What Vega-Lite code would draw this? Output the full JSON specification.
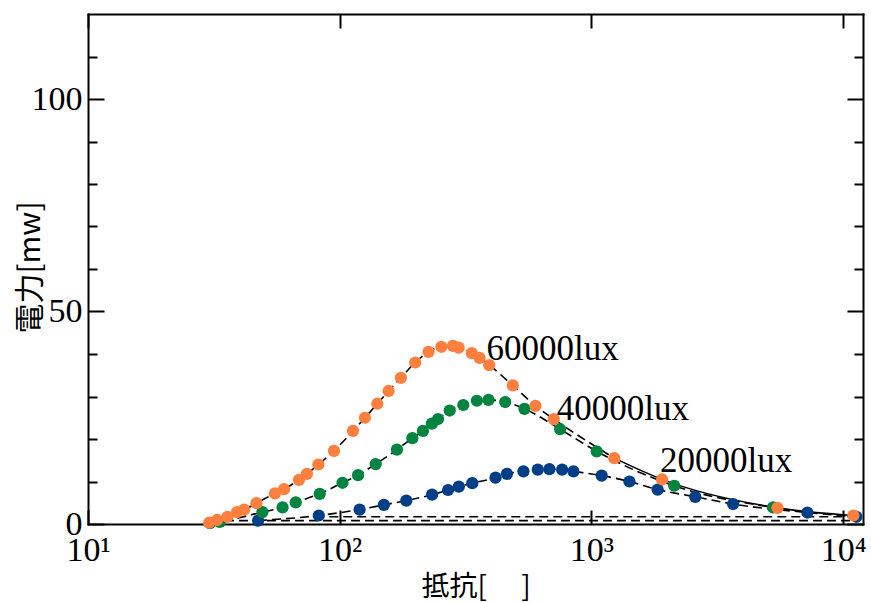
{
  "$schema": "https://vega.github.io/schema/vega-lite/v6.json",
  "width": 775,
  "height": 510,
  "autosize": {"type": "none"},
  "padding": {"left": 88, "top": 14, "right": 8, "bottom": 79},
  "background": "white",
  "config": {
    "view": {"stroke": null},
    "axis": {"domainColor": "black", "domainWidth": 2, "domainCap": "square", "tickColor": "black", "tickWidth": 2, "labelColor": "black", "titleColor": "black", "grid": false, "labelFont": "Liberation Serif", "labelFontSize": 34}
  },
  "datasets": {
    "pts": [
      {"series": "20000lux", "R": 47.4, "P": 0.8},
      {"series": "20000lux", "R": 82.6, "P": 2.0},
      {"series": "20000lux", "R": 120.0, "P": 3.4},
      {"series": "20000lux", "R": 149.8, "P": 4.5},
      {"series": "20000lux", "R": 183.9, "P": 5.5},
      {"series": "20000lux", "R": 232.8, "P": 6.9},
      {"series": "20000lux", "R": 269.6, "P": 8.0},
      {"series": "20000lux", "R": 297.4, "P": 8.8},
      {"series": "20000lux", "R": 336.3, "P": 9.6},
      {"series": "20000lux", "R": 416.1, "P": 10.9},
      {"series": "20000lux", "R": 462.0, "P": 11.8},
      {"series": "20000lux", "R": 537.0, "P": 12.4},
      {"series": "20000lux", "R": 612.4, "P": 12.8},
      {"series": "20000lux", "R": 681.3, "P": 12.9},
      {"series": "20000lux", "R": 765.2, "P": 12.8},
      {"series": "20000lux", "R": 848.8, "P": 12.4},
      {"series": "20000lux", "R": 1099, "P": 11.4},
      {"series": "20000lux", "R": 1416, "P": 10.0},
      {"series": "20000lux", "R": 1834, "P": 8.1},
      {"series": "20000lux", "R": 2587, "P": 6.4},
      {"series": "20000lux", "R": 3656, "P": 4.7},
      {"series": "20000lux", "R": 7211, "P": 2.7},
      {"series": "20000lux", "R": 11300, "P": 1.7},
      {"series": "40000lux", "R": 30.5, "P": 0.2},
      {"series": "40000lux", "R": 33.4, "P": 0.5},
      {"series": "40000lux", "R": 49.3, "P": 2.8},
      {"series": "40000lux", "R": 59.3, "P": 3.9},
      {"series": "40000lux", "R": 66.9, "P": 5.1},
      {"series": "40000lux", "R": 83.3, "P": 7.1},
      {"series": "40000lux", "R": 102.6, "P": 9.7},
      {"series": "40000lux", "R": 118.3, "P": 11.5},
      {"series": "40000lux", "R": 139.0, "P": 14.1},
      {"series": "40000lux", "R": 168.8, "P": 17.5},
      {"series": "40000lux", "R": 194.4, "P": 20.2},
      {"series": "40000lux", "R": 214.2, "P": 21.9},
      {"series": "40000lux", "R": 232.4, "P": 23.6},
      {"series": "40000lux", "R": 246.0, "P": 24.7},
      {"series": "40000lux", "R": 273.6, "P": 26.7},
      {"series": "40000lux", "R": 309.8, "P": 28.0},
      {"series": "40000lux", "R": 350.8, "P": 29.0},
      {"series": "40000lux", "R": 390.2, "P": 29.2},
      {"series": "40000lux", "R": 454.5, "P": 28.7},
      {"series": "40000lux", "R": 542.2, "P": 27.1},
      {"series": "40000lux", "R": 751.4, "P": 22.3},
      {"series": "40000lux", "R": 1050, "P": 17.1},
      {"series": "40000lux", "R": 2134, "P": 9.0},
      {"series": "40000lux", "R": 5272, "P": 3.9},
      {"series": "60000lux", "R": 30.3, "P": 0.3},
      {"series": "60000lux", "R": 32.6, "P": 0.95},
      {"series": "60000lux", "R": 35.8, "P": 1.7},
      {"series": "60000lux", "R": 39.1, "P": 2.8},
      {"series": "60000lux", "R": 41.7, "P": 3.4},
      {"series": "60000lux", "R": 46.7, "P": 4.9},
      {"series": "60000lux", "R": 55.3, "P": 7.2},
      {"series": "60000lux", "R": 60.1, "P": 8.2},
      {"series": "60000lux", "R": 68.9, "P": 10.4},
      {"series": "60000lux", "R": 74.1, "P": 11.8},
      {"series": "60000lux", "R": 82.3, "P": 14.0},
      {"series": "60000lux", "R": 94.9, "P": 17.2},
      {"series": "60000lux", "R": 112.9, "P": 21.9},
      {"series": "60000lux", "R": 126.0, "P": 25.0},
      {"series": "60000lux", "R": 141.1, "P": 28.3},
      {"series": "60000lux", "R": 156.4, "P": 31.3},
      {"series": "60000lux", "R": 175.0, "P": 34.4},
      {"series": "60000lux", "R": 199.6, "P": 38.0},
      {"series": "60000lux", "R": 225.4, "P": 40.5},
      {"series": "60000lux", "R": 253.5, "P": 41.7},
      {"series": "60000lux", "R": 281.8, "P": 41.9},
      {"series": "60000lux", "R": 296.8, "P": 41.5},
      {"series": "60000lux", "R": 335.0, "P": 40.2},
      {"series": "60000lux", "R": 359.5, "P": 39.1},
      {"series": "60000lux", "R": 392.7, "P": 37.4},
      {"series": "60000lux", "R": 487.3, "P": 32.6},
      {"series": "60000lux", "R": 599.7, "P": 27.8},
      {"series": "60000lux", "R": 708.8, "P": 24.7},
      {"series": "60000lux", "R": 1233, "P": 15.5},
      {"series": "60000lux", "R": 1909, "P": 10.5},
      {"series": "60000lux", "R": 5486, "P": 3.8},
      {"series": "60000lux", "R": 10990, "P": 2.0}
    ],
    "base": [
      {"line": "a", "R": 35, "P": 0.8},
      {"line": "a", "R": 11500, "P": 0.8},
      {"line": "b", "R": 80, "P": 1.7},
      {"line": "b", "R": 11500, "P": 1.7}
    ],
    "labels": [
      {"label": "60000lux", "R": 383, "P": 38.6},
      {"label": "40000lux", "R": 728, "P": 24.5},
      {"label": "20000lux", "R": 1874, "P": 12.3}
    ]
  },
  "resolve": {"axis": {"x": "independent", "y": "independent"}},
  "layer": [
    {
      "data": {"name": "base"},
      "mark": {"type": "line", "color": "black", "strokeWidth": 1.6, "strokeDash": [9, 5]},
      "encoding": {
        "x": {"field": "R", "type": "quantitative", "scale": {"type": "log", "domain": [10, 12000], "nice": false},
          "axis": {"orient": "bottom", "values": [10, 100, 1000, 10000], "tickSize": -14, "labelPadding": 23,
            "labelExpr": "datum.value == 10 ? '10¹' : datum.value == 100 ? '10²' : datum.value == 1000 ? '10³' : '10⁴'",
            "labelFlush": false, "labelOverlap": false,
            "title": "抵抗[　 ]", "titleFont": "Noto Sans CJK JP", "titleFontSize": 28, "titleFontWeight": "normal", "titlePadding": 6}},
        "y": {"field": "P", "type": "quantitative", "scale": {"domain": [0, 120], "nice": false, "zero": false},
          "axis": {"orient": "left", "values": [0, 50, 100], "tickSize": -16, "labelPadding": 22, "labelFlush": false, "labelOverlap": false,
            "title": "電力[mw]", "titleFont": "Noto Sans CJK JP", "titleFontSize": 30, "titleFontWeight": "normal",
            "titleX": -58, "titleY": 253, "titleAngle": -90, "titleAlign": "center", "titleBaseline": "middle"}},
        "detail": {"field": "line"}
      }
    },
    {
      "data": {"name": "pts"},
      "transform": [{"filter": "datum.series != '60000lux' || datum.R <= 1300"}],
      "mark": {"type": "line", "color": "black", "strokeWidth": 1.6, "strokeDash": [9, 5], "interpolate": "monotone"},
      "encoding": {
        "x": {"field": "R", "type": "quantitative", "scale": {"type": "log", "domain": [10, 12000], "nice": false},
          "axis": {"orient": "top", "values": [10, 100, 1000, 10000], "tickSize": -14, "labels": false, "title": null}},
        "y": {"field": "P", "type": "quantitative", "scale": {"domain": [0, 120], "nice": false, "zero": false},
          "axis": {"orient": "right", "values": [0, 50, 100], "tickSize": -16, "labels": false, "title": null}},
        "detail": {"field": "series"}
      }
    },
    {
      "data": {"name": "pts"},
      "transform": [{"filter": "datum.series == '60000lux' && datum.R >= 1200"}],
      "mark": {"type": "line", "color": "black", "strokeWidth": 1.6, "interpolate": "monotone"},
      "encoding": {
        "x": {"field": "R", "type": "quantitative", "scale": {"type": "log", "domain": [10, 12000], "nice": false}, "axis": null},
        "y": {"field": "P", "type": "quantitative", "scale": {"domain": [0, 120], "nice": false, "zero": false},
          "axis": {"orient": "left", "values": [10, 20, 30, 40, 60, 70, 80, 90, 110], "tickSize": -9, "labels": false, "domain": false, "title": null}}
      }
    },
    {
      "data": {"name": "pts"},
      "mark": {"type": "circle", "size": 150, "opacity": 1},
      "encoding": {
        "x": {"field": "R", "type": "quantitative", "scale": {"type": "log", "domain": [10, 12000], "nice": false}, "axis": null},
        "y": {"field": "P", "type": "quantitative", "scale": {"domain": [0, 120], "nice": false, "zero": false},
          "axis": {"orient": "right", "values": [10, 20, 30, 40, 60, 70, 80, 90, 110], "tickSize": -9, "labels": false, "domain": false, "title": null}},
        "color": {"field": "series", "type": "nominal",
          "scale": {"domain": ["20000lux", "40000lux", "60000lux"], "range": ["#003f87", "#00843f", "#ff7f3f"]}, "legend": null}
      }
    },
    {
      "data": {"name": "labels"},
      "mark": {"type": "text", "align": "left", "baseline": "alphabetic", "font": "Liberation Serif", "fontSize": 35, "color": "black"},
      "encoding": {
        "x": {"field": "R", "type": "quantitative", "scale": {"type": "log", "domain": [10, 12000], "nice": false}, "axis": null},
        "y": {"field": "P", "type": "quantitative", "scale": {"domain": [0, 120], "nice": false, "zero": false}, "axis": null},
        "text": {"field": "label"}
      }
    }
  ]
}
